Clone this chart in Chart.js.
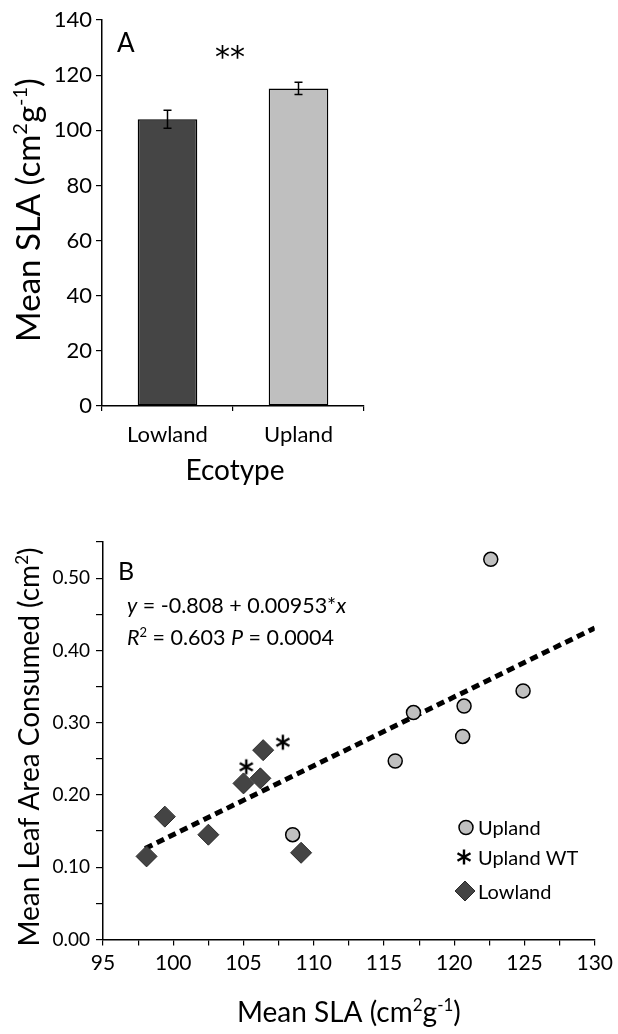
<!DOCTYPE html>
<html>
<head>
<meta charset="utf-8">
<script src="https://cdn.jsdelivr.net/npm/chart.js@4.4.0/dist/chart.umd.min.js"></script>
<style>
  html, body { margin: 0; padding: 0; background: #fff; }
  .panel { position: relative; width: 618px; }
  #panel-a { height: 500px; }
  #panel-b { height: 534px; }
</style>
</head>
<body>
<div class="panel" id="panel-a"><canvas id="sla-chart"></canvas></div>
<div class="panel" id="panel-b"><canvas id="leaf-chart"></canvas></div>
<script>
// Panel A: mean SLA by ecotype
const ecotypes = ["Lowland", "Upland"];
const meanSla = [104.0, 115.2];
const slaErr = [3.3, 2.2];

// Panel B: leaf area consumed vs SLA
const uplandSla = [108.5, 115.8, 117.1, 120.7, 120.6, 122.6, 124.9];
const uplandLeaf = [0.145, 0.247, 0.314, 0.323, 0.281, 0.526, 0.344];
const wtSla = [105.2, 107.8];
const wtLeaf = [0.239, 0.273];
const lowlandSla = [98.1, 99.4, 102.5, 105.0, 106.2, 106.4, 109.1];
const lowlandLeaf = [0.115, 0.170, 0.145, 0.216, 0.223, 0.262, 0.120];
const fitSla = [98, 130];
const fitLeaf = [0.126, 0.431];

const FONT = "Lato";
Chart.defaults.font.family = FONT;
Chart.defaults.color = "#000";

function toPoints(xs, ys) {
  return xs.map((x, i) => ({ x, y: ys[i] }));
}

// text with superscripts / italics
function drawRich(ctx, parts, x, y, size, align, family) {
  const fam = family || FONT;
  const fontFor = (p) =>
    `${p.i ? "italic " : ""}${p.sup ? Math.round(size * 0.62) : size}px ${fam}`;
  let total = 0;
  parts.forEach((p) => {
    ctx.font = fontFor(p);
    total += ctx.measureText(p.t).width;
  });
  let cx = align === "center" ? x - total / 2 : x;
  ctx.textAlign = "left";
  ctx.textBaseline = "alphabetic";
  parts.forEach((p) => {
    ctx.font = fontFor(p);
    ctx.fillText(p.t, cx, p.sup ? y - size * 0.38 : y);
    cx += ctx.measureText(p.t).width;
  });
}

function drawRotated(ctx, parts, x, y, size) {
  ctx.save();
  ctx.translate(x, y);
  ctx.rotate(-Math.PI / 2);
  drawRich(ctx, parts, 0, 0, size, "center");
  ctx.restore();
}

function drawAsterisk(ctx, x, y, r, w) {
  ctx.save();
  ctx.strokeStyle = "#000";
  ctx.lineWidth = w;
  ctx.beginPath();
  for (let k = 0; k < 3; k++) {
    const a = Math.PI / 2 + (k * Math.PI) / 3;
    ctx.moveTo(x - Math.cos(a) * r, y - Math.sin(a) * r);
    ctx.lineTo(x + Math.cos(a) * r, y + Math.sin(a) * r);
  }
  ctx.stroke();
  ctx.restore();
}

const asteriskImg = document.createElement("canvas");
asteriskImg.width = 20;
asteriskImg.height = 20;
drawAsterisk(asteriskImg.getContext("2d"), 10, 10, 7.5, 2.4);

const slaTitle = [
  { t: "Mean SLA (cm" }, { t: "2", sup: true }, { t: "g" }, { t: "-1", sup: true }, { t: ")" },
];

// ---------- Panel A ----------
const errorBars = {
  id: "errorBars",
  afterDatasetsDraw(chart) {
    const { ctx, scales: { x, y } } = chart;
    ctx.save();
    ctx.strokeStyle = "#000";
    ctx.lineWidth = 1.5;
    meanSla.forEach((v, i) => {
      const px = x.getPixelForValue(i);
      const top = y.getPixelForValue(v + slaErr[i]);
      const bot = y.getPixelForValue(v - slaErr[i]);
      ctx.beginPath();
      ctx.moveTo(px, top); ctx.lineTo(px, bot);
      ctx.moveTo(px - 4, top); ctx.lineTo(px + 4, top);
      ctx.moveTo(px - 4, bot); ctx.lineTo(px + 4, bot);
      ctx.stroke();
    });
    ctx.restore();
  },
};

const labelsA = {
  id: "labelsA",
  afterDraw(chart) {
    const { ctx, chartArea } = chart;
    ctx.save();
    ctx.fillStyle = "#000";
    drawRotated(ctx, slaTitle, 40, 210, 33);
    drawRich(ctx, [{ t: "Ecotype" }], (chartArea.left + chartArea.right) / 2 + 2, 480, 28, "center");
    drawRich(ctx, [{ t: "A" }], chartArea.left + 15, 52, 26, "left");
    drawRich(ctx, [{ t: "**" }], (chartArea.left + chartArea.right) / 2 - 3, 67, 30, "center", "DejaVu Sans");
    ctx.restore();
  },
};

new Chart(document.getElementById("sla-chart"), {
  type: "bar",
  data: {
    labels: ecotypes,
    datasets: [
      {
        data: meanSla,
        backgroundColor: ["#454545", "#bfbfbf"],
        borderColor: "#000",
        borderWidth: 1.5,
        borderSkipped: false,
        categoryPercentage: 1,
        barPercentage: 0.455,
      },
    ],
  },
  options: {
    responsive: true,
    maintainAspectRatio: false,
    animation: false,
    layout: { padding: { left: 0, top: 20, right: 254, bottom: 0 } },
    plugins: { legend: { display: false }, tooltip: { enabled: false } },
    scales: {
      x: {
        afterFit(s) { s.height = 94; },
        grid: { drawOnChartArea: false, color: "#000", tickLength: 5, lineWidth: 1.2 },
        border: { color: "#000", width: 1.5 },
        ticks: { font: { size: 22 }, padding: 11, color: "#000", maxRotation: 0 },
      },
      y: {
        min: 0,
        max: 140,
        afterFit(s) { s.width = 102; },
        grid: { drawOnChartArea: false, color: "#000", tickLength: 6, lineWidth: 1.2 },
        border: { color: "#000", width: 1.5 },
        ticks: {
          stepSize: 10,
          padding: 4,
          font: { size: 22 },
          color: "#000",
          callback: (v) => (v % 20 === 0 ? String(v) : ""),
        },
      },
    },
  },
  plugins: [errorBars, labelsA],
});

// ---------- Panel B ----------
const labelsB = {
  id: "labelsB",
  afterDraw(chart) {
    const { ctx, chartArea } = chart;
    ctx.save();
    ctx.fillStyle = "#000";
    drawRotated(ctx, [
      { t: "Mean Leaf Area Consumed (cm" }, { t: "2", sup: true }, { t: ")" },
    ], 39, 247, 28);
    drawRich(ctx, slaTitle, (chartArea.left + chartArea.right) / 2, 522, 28, "center");
    drawRich(ctx, [{ t: "B" }], chartArea.left + 15, 80, 25, "left");
    drawRich(ctx, [
      { t: "y", i: true }, { t: " = -0.808 + 0.00953*" }, { t: "x", i: true },
    ], 127, 113, 21.5, "left");
    drawRich(ctx, [
      { t: "R", i: true }, { t: "2", sup: true }, { t: " = 0.603 " },
      { t: "P", i: true }, { t: " = 0.0004" },
    ], 127, 145, 21.5, "left");

    // legend
    const lx = 465, tx = 478;
    const rows = [327.5, 357, 391];
    ctx.fillStyle = "#c0c0c0";
    ctx.strokeStyle = "#000";
    ctx.lineWidth = 1.5;
    ctx.beginPath();
    ctx.arc(lx + 1, rows[0], 7, 0, Math.PI * 2);
    ctx.fill();
    ctx.stroke();
    drawAsterisk(ctx, lx - 1, rows[1], 7.5, 2.4);
    ctx.fillStyle = "#444";
    ctx.strokeStyle = "#2a2a2a";
    ctx.lineWidth = 1;
    ctx.beginPath();
    ctx.moveTo(lx - 10, rows[2]);
    ctx.lineTo(lx, rows[2] - 10);
    ctx.lineTo(lx + 10, rows[2]);
    ctx.lineTo(lx, rows[2] + 10);
    ctx.closePath();
    ctx.fill();
    ctx.stroke();
    ctx.fillStyle = "#000";
    ["Upland", "Upland WT", "Lowland"].forEach((t, i) => {
      drawRich(ctx, [{ t }], tx, rows[i] + 7.5, 20, "left");
    });
    ctx.restore();
  },
};

new Chart(document.getElementById("leaf-chart"), {
  type: "scatter",
  data: {
    datasets: [
      {
        label: "Upland",
        data: toPoints(uplandSla, uplandLeaf),
        pointStyle: "circle",
        pointRadius: 7,
        backgroundColor: "#c0c0c0",
        borderColor: "#000",
        borderWidth: 1.5,
        order: 1,
      },
      {
        label: "Upland WT",
        data: toPoints(wtSla, wtLeaf),
        pointStyle: asteriskImg,
        pointRadius: 8,
        order: 1,
      },
      {
        label: "Lowland",
        data: toPoints(lowlandSla, lowlandLeaf),
        pointStyle: "rectRot",
        pointRadius: 10.5,
        backgroundColor: "#444",
        borderColor: "#2a2a2a",
        borderWidth: 1,
        order: 1,
      },
      {
        type: "line",
        label: "fit",
        data: toPoints(fitSla, fitLeaf),
        borderColor: "#000",
        borderWidth: 5,
        borderDash: [8, 5],
        pointRadius: 0,
        fill: false,
        order: 2,
      },
    ],
  },
  options: {
    responsive: true,
    maintainAspectRatio: false,
    animation: false,
    layout: { padding: { left: 0, top: 42, right: 22, bottom: 0 } },
    plugins: { legend: { display: false }, tooltip: { enabled: false } },
    scales: {
      x: {
        type: "linear",
        min: 95,
        max: 130,
        afterFit(s) { s.height = 94.5; },
        grid: { drawOnChartArea: false, color: "#000", tickLength: 6, lineWidth: 1.2 },
        border: { color: "#000", width: 1.5 },
        ticks: {
          stepSize: 2.5,
          padding: 5,
          font: { size: 21 },
          color: "#000",
          maxRotation: 0,
          minRotation: 0,
          autoSkip: false,
          callback: (v) => (v % 5 === 0 ? String(v) : ""),
        },
      },
      y: {
        min: 0,
        max: 0.55,
        afterFit(s) { s.width = 103; },
        grid: { drawOnChartArea: false, color: "#000", tickLength: 7, lineWidth: 1.2 },
        border: { color: "#000", width: 1.5 },
        ticks: {
          stepSize: 0.05,
          padding: 6,
          font: { size: 19 },
          color: "#000",
          autoSkip: false,
          callback: (v) => (Math.round(v * 100) % 10 === 0 ? v.toFixed(2) : ""),
        },
      },
    },
  },
  plugins: [labelsB],
});
</script>
</body>
</html>
